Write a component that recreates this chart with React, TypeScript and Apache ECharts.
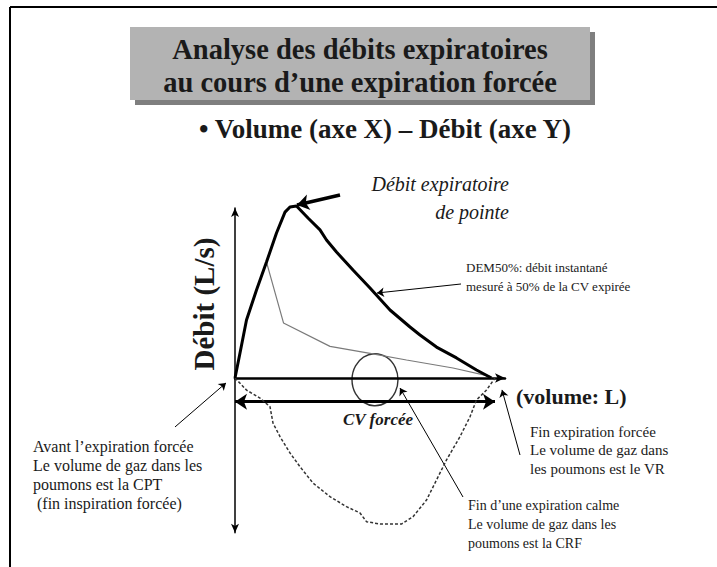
import React, { useEffect, useRef } from "react";
import * as echarts from "echarts";

// Courbe débit-volume en expiration forcée (volume en L, débit en L/s)
const forcedVolume = [0, 0.1, 0.23, 0.43, 0.63, 0.83, 1.0, 1.1, 1.23, 1.46, 1.7, 1.83, 2.03, 2.36, 2.7, 3.1, 3.5, 3.7, 4.03, 4.43, 4.83, 5.13];
const forcedFlow = [0, 1.47, 3.41, 5.18, 6.82, 8.53, 9.76, 10.06, 10.12, 9.41, 8.71, 8.12, 7.41, 6.35, 5.29, 4.0, 3.0, 2.53, 1.82, 1.18, 0.47, 0];

// Courbe fine (expiration moins forcée)
const gentleVolume = [0.63, 0.97, 1.9, 2.7, 3.43, 4.36, 5.1, 5.13];
const gentleFlow = [6.82, 3.24, 1.86, 1.45, 1.06, 0.59, 0.1, 0];

// Courbe inspiratoire (pointillés)
const inspVolume = [0, 0.23, 0.5, 0.7, 0.76, 0.9, 1.1, 1.3, 1.56, 1.9, 2.23, 2.5, 2.63, 2.9, 3.33, 3.56, 3.83, 4.03, 4.23, 4.5, 4.7, 4.83, 5.03, 5.2];
const inspFlow = [0, -0.71, -1.18, -1.69, -2.65, -3.45, -4.41, -5.22, -6.18, -6.98, -7.57, -7.94, -8.45, -8.59, -8.59, -8.16, -7.18, -6.0, -4.82, -3.45, -2.28, -1.29, -0.71, 0];

// Point de fin d'expiration calme (CRF)
const frcPoint = [2.8, -0.1];
// CV forcée
const cvForcee = 5.2;
const cvArrowLevel = -1.39;

// Axes
const xMin = 0;
const xMax = 5.4;
const yMin = -9.1;
const yMax = 10;

// Flèches d'annotation [x1, y1, x2, y2] en unités des axes
const peakArrow = [2.1, 10.76, 1.24, 10.18];
const dem50Arrow = [4.52, 5.53, 2.84, 5.0];
const cptArrow = [-1.2, -2.88, -0.18, -0.29];
const crfArrow = [4.56, -7.0, 3.3, -0.59];
const vrArrow = [5.7, -4.53, 5.34, -0.7];

const titleLines = ["Analyse des débits expiratoires", "au cours d\u2019une expiration forcée"];
const subtitle = "\u2022 Volume (axe X) \u2013 Débit (axe Y)";
const yAxisLabel = "Débit (L/s)";
const xAxisLabel = "(volume: L)";
const cvLabel = "CV forcée";
const peakLabel = ["Débit expiratoire", "de pointe"];
const dem50Label = "DEM50%: débit instantané\nmesuré à 50% de la CV expirée";
const cptLabel = "Avant l\u2019expiration forcée\nLe volume de gaz dans les\npoumons est la CPT\n (fin inspiration forcée)";
const vrLabel = "Fin expiration forcée\nLe volume de gaz dans\nles poumons est le VR";
const crfLabel = "Fin d\u2019une expiration calme\nLe volume de gaz dans les\npoumons est la CRF";

const SERIF = '"Liberation Serif", "Times New Roman", serif';

function zip(xs: number[], ys: number[]) {
  return xs.map((x, i) => [x, ys[i]]);
}

function seg(a: number[]) {
  return { coords: [[a[0], a[1]], [a[2], a[3]]] };
}

export default function App() {
  const ref = useRef<HTMLDivElement>(null);
  useEffect(() => {
    if (!ref.current) return;
    const chart = echarts.init(ref.current, null, { renderer: "svg" });
    const txt = (x: number, y: number, text: string, o: any = {}) => ({
      type: "text",
      x,
      y,
      rotation: o.rotation || 0,
      z: 10,
      style: {
        text,
        fontFamily: SERIF,
        fontSize: o.size || 16,
        fontWeight: o.weight || "normal",
        fontStyle: o.style || "normal",
        fill: o.fill || "#1a1a1a",
        align: o.align || "left",
        verticalAlign: "middle",
        lineHeight: o.lh || 18.5,
      },
    });
    chart.setOption({
      animation: false,
      grid: { left: 235, right: 717 - 235 - 270, top: 208, bottom: 567 - 378 - 154.7, containLabel: false },
      xAxis: {
        type: "value",
        min: xMin,
        max: xMax,
        axisLine: { show: true, onZero: true, symbol: ["none", "arrow"], symbolSize: [7, 10], lineStyle: { color: "#000", width: 2.5 } },
        axisTick: { show: false },
        axisLabel: { show: false },
        splitLine: { show: false },
      },
      yAxis: {
        type: "value",
        min: yMin,
        max: yMax,
        axisLine: { show: true, onZero: true, symbol: ["arrow", "arrow"], symbolSize: [6, 9], lineStyle: { color: "#000", width: 1.5 } },
        axisTick: { show: false },
        axisLabel: { show: false },
        splitLine: { show: false },
      },
      series: [
        {
          type: "line",
          data: zip(inspVolume, inspFlow),
          symbol: "none",
          clip: false,
          lineStyle: { color: "#333", width: 1.5, type: [3, 2] },
          silent: true,
        },
        {
          type: "line",
          data: zip(gentleVolume, gentleFlow),
          symbol: "none",
          clip: false,
          lineStyle: { color: "#7a7a7a", width: 1.2 },
          silent: true,
        },
        {
          type: "line",
          data: zip(forcedVolume, forcedFlow),
          symbol: "none",
          clip: false,
          lineStyle: { color: "#000", width: 3 },
          silent: true,
        },
        {
          type: "scatter",
          data: [frcPoint],
          symbol: "circle",
          symbolSize: [46, 52],
          clip: false,
          silent: true,
          itemStyle: { color: "rgba(0,0,0,0)", borderColor: "#000", borderWidth: 1.5 },
        },
        {
          type: "lines",
          coordinateSystem: "cartesian2d",
          clip: false,
          silent: true,
          symbol: ["none", "arrow"],
          symbolSize: 12,
          lineStyle: { color: "#000", width: 3.5, opacity: 1 },
          data: [seg(peakArrow)],
        },
        {
          type: "lines",
          coordinateSystem: "cartesian2d",
          clip: false,
          silent: true,
          symbol: ["none", "arrow"],
          symbolSize: 7,
          lineStyle: { color: "#000", width: 1, opacity: 1 },
          data: [seg(dem50Arrow), seg(cptArrow), seg(crfArrow), seg(vrArrow)],
        },
        {
          type: "lines",
          coordinateSystem: "cartesian2d",
          clip: false,
          silent: true,
          symbol: ["arrow", "arrow"],
          symbolSize: 12,
          lineStyle: { color: "#000", width: 3, opacity: 1 },
          data: [seg([xMin, cvArrowLevel, cvForcee, cvArrowLevel])],
        },
      ],
      graphic: [
        { type: "line", shape: { x1: 10, y1: 7, x2: 717, y2: 7 }, style: { stroke: "#000", lineWidth: 2 } },
        { type: "line", shape: { x1: 10, y1: 7, x2: 10, y2: 567 }, style: { stroke: "#000", lineWidth: 2 } },
        { type: "rect", shape: { x: 135, y: 32, width: 460, height: 73 }, style: { fill: "#7f7f7f" } },
        { type: "rect", shape: { x: 130, y: 27, width: 460, height: 73 }, style: { fill: "#b3b3b3" } },
        txt(360, 49, titleLines[0], { size: 28.5, weight: "bold", align: "center" }),
        txt(360, 82, titleLines[1], { size: 28.5, weight: "bold", align: "center" }),
        txt(385, 129, subtitle, { size: 27, weight: "bold", align: "center" }),
        txt(509, 184, peakLabel[0], { size: 20, style: "italic", align: "right" }),
        txt(509, 212, peakLabel[1], { size: 20, style: "italic", align: "right" }),
        txt(466, 277, dem50Label, { size: 13, lh: 19 }),
        txt(204, 304, yAxisLabel, { size: 29, weight: "bold", align: "center", rotation: Math.PI / 2 }),
        txt(516, 396, xAxisLabel, { size: 22, weight: "bold" }),
        txt(378, 419, cvLabel, { size: 17, weight: "bold", style: "italic", align: "center" }),
        txt(33, 475, cptLabel, { size: 16, lh: 18.7 }),
        txt(530, 450, vrLabel, { size: 15, lh: 18.5 }),
        txt(468, 524, crfLabel, { size: 14, lh: 19 }),
      ],
    });
    return () => chart.dispose();
  }, []);
  return (
    <div
      ref={ref}
      style={{ position: "fixed", left: 0, top: 0, width: 717, height: 567, background: "#fff" }}
    />
  );
}
